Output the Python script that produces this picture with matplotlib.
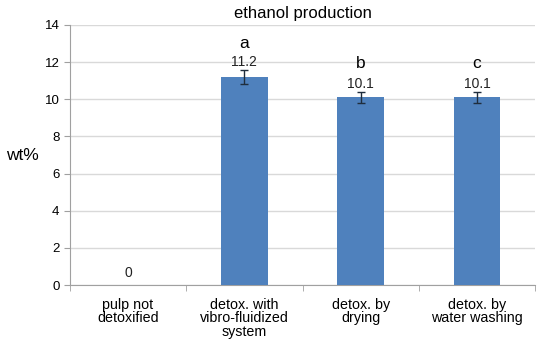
import matplotlib
matplotlib.use("Agg")
import matplotlib.pyplot as plt
import numpy as np

# data
categories = ['pulp not\ndetoxified', 'detox. with\nvibro-fluidized\nsystem',
              'detox. by\ndrying', 'detox. by\nwater washing']
values = [0, 11.2, 10.1, 10.1]
errors = [0, 0.4, 0.3, 0.3]
letters = ['', 'a', 'b', 'c']

plt.rcParams['font.family'] = ['Liberation Sans', 'DejaVu Sans']

fig = plt.figure(figsize=(5.5, 3.46), dpi=100)
ax = fig.add_axes([0.127, 0.176, 0.846, 0.752])

x = np.arange(len(categories))
ax.bar(x, values, width=0.4, color='#4f81bd', zorder=3)
ax.errorbar(x[1:], values[1:], yerr=errors[1:], fmt='none', ecolor='#1f2d3d',
            elinewidth=1, capsize=3, capthick=1, zorder=4)

for xi, v, e, l in zip(x, values, errors, letters):
    ax.text(xi, v + max(e, 0.2) + 0.05, f'{v:g}', ha='center', va='bottom',
            fontsize=10, color='#222222', zorder=5)
    if l:
        ax.text(xi, v + 1.4, l, ha='center', va='bottom', fontsize=12.5, zorder=5)

ax.set_xlim(-0.5, len(categories) - 0.5)
ax.set_ylim(0, 14)
ax.set_yticks(range(0, 15, 2))
ax.yaxis.grid(True, color='#d9d9d9', linewidth=1, zorder=0)
ax.set_axisbelow(True)

ax.set_xticks(x)
ax.set_xticklabels(categories, fontsize=10.3, linespacing=0.95)
ax.tick_params(axis='x', length=0, pad=9)
ax.set_xticks(np.arange(-0.5, len(categories), 1), minor=True)
ax.tick_params(axis='x', which='minor', length=4, color='#a0a0a0')
ax.tick_params(axis='y', length=4, color='#a0a0a0', labelsize=9.5)

for s in ['top', 'right']:
    ax.spines[s].set_visible(False)
for s in ['left', 'bottom']:
    ax.spines[s].set_color('#a0a0a0')

ax.set_ylabel('wt%', rotation=0, fontsize=12.5, labelpad=16, va='center')
ax.set_title('ethanol production', fontsize=12, pad=5)

fig.savefig('out.png', dpi=100)
